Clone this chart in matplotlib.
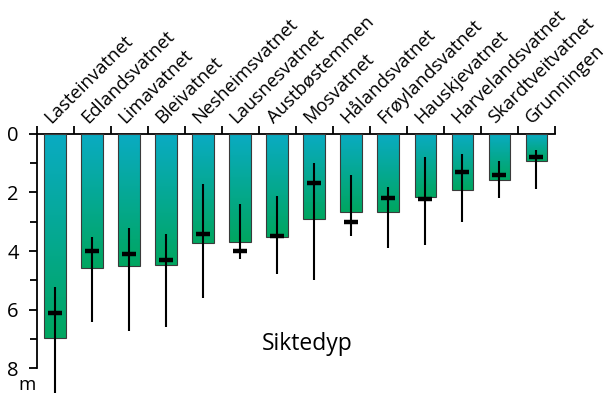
import numpy as np
import matplotlib
matplotlib.use("Agg")
import matplotlib.pyplot as plt
from matplotlib.colors import LinearSegmentedColormap
import matplotlib.transforms as mtransforms

lakes = ["Lasteinvatnet", "Edlandsvatnet", "Limavatnet", "Bleivatnet", "Nesheimsvatnet",
         "Lausnesvatnet", "Austbøstemmen", "Mosvatnet", "Hålandsvatnet", "Frøylandsvatnet",
         "Hauskjevatnet", "Harvelandsvatnet", "Skardtveitvatnet", "Grunningen"]
bar_depth = [6.97, 4.59, 4.50, 4.46, 3.71, 3.70, 3.51, 2.92, 2.68, 2.66, 2.17, 1.91, 1.59, 0.92]
marker_depth = [6.10, 4.00, 4.11, 4.30, 3.41, 3.99, 3.50, 1.69, 3.00, 2.20, 2.21, 1.29, 1.41, 0.79]
range_min = [5.21, 3.51, 3.22, 3.42, 1.71, 2.41, 2.11, 1.01, 1.41, 1.81, 0.80, 0.70, 0.92, 0.56]
range_max = [8.85, 6.40, 6.71, 6.60, 5.61, 4.28, 4.79, 4.98, 3.49, 3.89, 3.79, 3.00, 2.20, 1.89]
y_ticks = [0, 2, 4, 6, 8]
y_minor = [1, 3, 5, 7]
title = "Siktedyp"
unit = "m"

plt.rcParams['font.family'] = ['Open Sans', 'DejaVu Sans']

W, H = 614, 394
fig = plt.figure(figsize=(W / 100, H / 100), dpi=100)
ax = fig.add_axes([36.7 / W, 0.0, (555 - 36.7) / W, 1 - 133.7 / H])

x = np.arange(len(lakes))
ax.set_xlim(-0.5, len(lakes) - 0.5)
ax.set_ylim(8.87, 0)

cmap = LinearSegmentedColormap.from_list("g", ["#0aabc3", "#00a660"])
grad = np.linspace(0, 1, 256).reshape(-1, 1)

bars = ax.bar(x, bar_depth, width=0.59, bottom=0, color="none",
              edgecolor="#3a3a3a", linewidth=0.8, zorder=3)
for b in bars:
    x0, w = b.get_x(), b.get_width()
    h = b.get_height()
    im = ax.imshow(grad, cmap=cmap, aspect="auto", extent=[x0, x0 + w, h, 0],
                   origin="upper", zorder=2, interpolation="bicubic")
    im.set_clip_path(b)

ax.vlines(x, range_min, range_max, color="black", linewidth=1.5, zorder=4, clip_on=False)
ax.plot(x, marker_depth, linestyle="none", marker="_", markersize=10.5,
        markeredgewidth=3.2, color="black", zorder=5)

for s in ["right", "bottom"]:
    ax.spines[s].set_visible(False)
ax.spines["left"].set_bounds(0, 8)
ax.spines["left"].set_linewidth(1.3)
ax.spines["top"].set_linewidth(1.3)

ax.xaxis.set_ticks_position("top")
ax.set_xticks(np.arange(-0.5, len(lakes), 1.0))
ax.set_xticklabels([])
ax.tick_params(axis="x", direction="out", length=6, width=1.3)

ax.set_yticks(y_ticks)
ax.set_yticks(y_minor, minor=True)
ax.set_yticklabels([str(t) for t in y_ticks], fontsize=14.5)
ax.tick_params(axis="y", which="major", direction="out", length=6, width=1.3, pad=7)
ax.tick_params(axis="y", which="minor", direction="out", length=5, width=1.3)

for i, name in enumerate(lakes):
    off = mtransforms.offset_copy(ax.transData, fig=fig, x=-4, y=10, units="dots")
    ax.text(i, 0, name, rotation=45, rotation_mode="anchor", ha="left", va="baseline",
            fontsize=13.3, transform=off, clip_on=False)

fig.text(307 / W, 1 - 350 / H, title, ha="center", va="baseline", fontsize=16.5,
         fontweight="medium")
fig.text(27 / W, 1 - 390.5 / H, unit, ha="center", va="baseline", fontsize=13.5)

fig.savefig("out.png", dpi=100)
